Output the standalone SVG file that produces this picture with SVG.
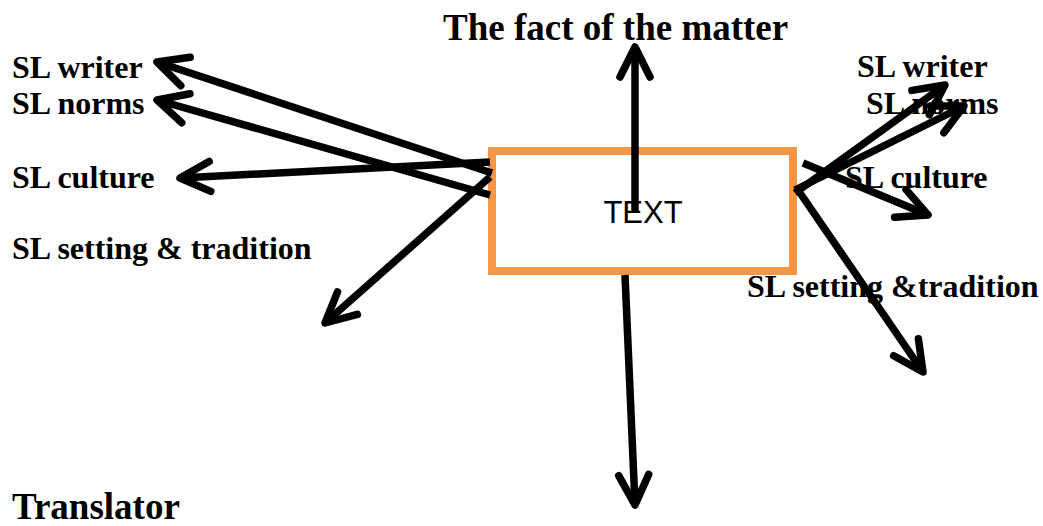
<svg xmlns="http://www.w3.org/2000/svg" width="1043" height="526" viewBox="0 0 1043 526">
<defs>
<style>
.lbl{font-family:"Liberation Serif","Times New Roman",serif;font-weight:bold;font-size:32px;fill:#000}
.big{font-size:37px}
.con{stroke:#000;stroke-width:7.5;fill:none;marker-end:url(#ah)}
</style>
<marker id="ah" markerUnits="userSpaceOnUse" markerWidth="80" markerHeight="80" viewBox="-40 -40 80 80" refX="0" refY="0" orient="auto" overflow="visible">
<path d="M-30,-15 L0,0 L-30,15" fill="none" stroke="#000" stroke-width="7.5" stroke-linecap="round" stroke-linejoin="round"/>
</marker>
</defs>
<rect width="1043" height="526" fill="#fff"/>
<g id="text-node">
<rect x="492" y="151" width="301" height="120" fill="#fff" stroke="#F79646" stroke-width="8"/>
<text x="643" y="223" text-anchor="middle" font-family="Liberation Sans, Arial, sans-serif" font-size="31">TEXT</text>
</g>
<g id="connectors">
<line class="con" x1="492" y1="173" x2="157" y2="62"/>
<line class="con" x1="490" y1="195" x2="157" y2="100"/>
<line class="con" x1="490" y1="162" x2="180" y2="178"/>
<line class="con" x1="490" y1="177" x2="325" y2="323"/>
<line class="con" x1="635" y1="212" x2="635" y2="47"/>
<line class="con" x1="625" y1="275" x2="635" y2="505"/>
<line class="con" x1="795" y1="193" x2="945" y2="85"/>
<line class="con" x1="795" y1="190" x2="964" y2="106"/>
<line class="con" x1="803" y1="163" x2="928" y2="215"/>
<line class="con" x1="798" y1="190" x2="923" y2="372"/>
</g>
<g id="title"><text class="lbl big" x="443" y="40">The fact of the matter</text></g>
<g id="left-writer"><text class="lbl" x="12" y="78">SL writer</text></g>
<g id="left-norms"><text class="lbl" x="12" y="114">SL norms</text></g>
<g id="left-culture"><text class="lbl" x="12" y="188">SL culture</text></g>
<g id="left-setting"><text class="lbl" x="12" y="259">SL setting &amp; tradition</text></g>
<g id="translator"><text class="lbl big" x="12" y="519">Translator</text></g>
<g id="right-writer"><text class="lbl" x="857" y="77">SL writer</text></g>
<g id="right-norms"><text class="lbl" x="866" y="114">SL norms</text></g>
<g id="right-culture"><text class="lbl" x="845" y="188">SL culture</text></g>
<g id="right-setting"><text class="lbl" x="747" y="297">SL setting &amp;tradition</text></g>
</svg>
